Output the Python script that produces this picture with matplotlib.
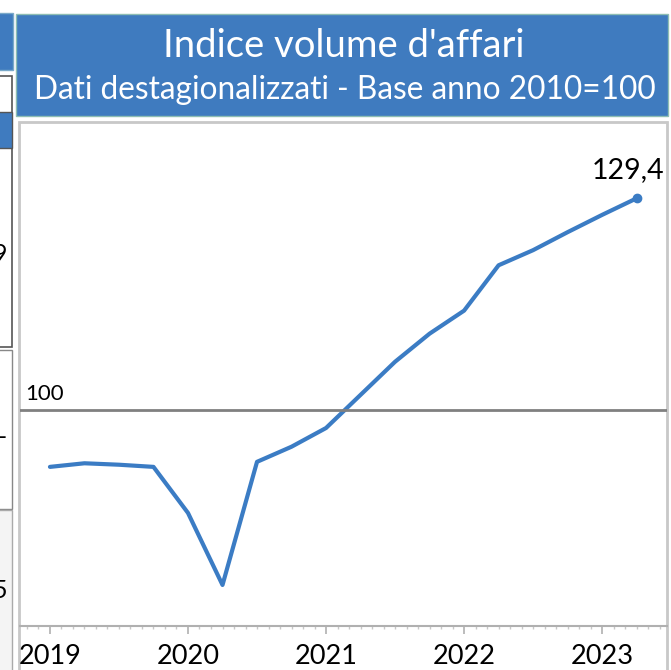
import matplotlib
matplotlib.use("Agg")
import matplotlib.pyplot as plt
from matplotlib.patches import Rectangle
from matplotlib.ticker import MultipleLocator, FixedLocator

plt.rcParams["font.family"] = ["Lato", "DejaVu Sans"]

# quarterly data 2019Q1 .. 2023Q2 (base 2010 = 100)
quarters = [2019 + i * 0.25 for i in range(18)]
index_values = [92.1, 92.6, 92.4, 92.1, 85.7, 75.7, 92.8, 94.9, 97.5,
                102.1, 106.7, 110.6, 113.8, 120.1, 122.2, 124.7, 127.1, 129.4]
year_ticks = [2019, 2020, 2021, 2022, 2023]
last_label = "129,4"
title = "Indice volume d'affari"
subtitle = "Dati destagionalizzati - Base anno 2010=100"

W, H = 671, 670
BLUE = "#3f7bbf"
LINE = "#3b7cc4"

fig = plt.figure(figsize=(W / 100, H / 100), dpi=100)

def box(x0, y0, x1, y1, **kw):
    # pixel coords, y from the top
    fig.patches.append(Rectangle((x0 / W, 1 - y1 / H), (x1 - x0) / W, (y1 - y0) / H,
                                 transform=fig.transFigure, figure=fig, **kw))

# fragments of the neighbouring panels on the left
box(-20, 13, 13, 70, facecolor=BLUE, edgecolor="#7aa9c9", lw=1)
box(-20, 76, 12, 347, facecolor="white", edgecolor="#555555", lw=1.2)
box(-20, 112, 12, 148, facecolor=BLUE, edgecolor="#555555", lw=1)
box(-20, 350, 12, 509, facecolor="white", edgecolor="#888888", lw=1)
box(-20, 510, 12, 690, facecolor="#f4f4f4", edgecolor="#aaaaaa", lw=1)
fig.text(7 / W, 1 - 255 / H, "9", ha="right", va="center", fontsize=18)
fig.text(7 / W, 1 - 438 / H, "-", ha="right", va="center", fontsize=18)
fig.text(7 / W, 1 - 591 / H, "5", ha="right", va="center", fontsize=18)

# header of this panel
box(16, 14, 668, 116, facecolor=BLUE, edgecolor="#8dbdb3", lw=1)
fig.text(344 / W, 1 - 46 / H, title, ha="center", va="center", color="white", fontsize=27.5)
fig.text(345 / W, 1 - 90 / H, subtitle, ha="center", va="center", color="white", fontsize=22.8)

# plot frame
box(19, 122, 667, 690, facecolor="white", edgecolor="#c8c8c8", lw=2)

ax = fig.add_axes([20 / W, (H - 626) / H, 647 / W, 504 / H])
ax.set_zorder(5)
ax.patch.set_alpha(0)
ax.plot(quarters, index_values, color=LINE, lw=3, solid_joinstyle="round",
        solid_capstyle="round")
ax.plot(quarters[-1], index_values[-1], "o", color=LINE, ms=6)
ax.axhline(100, color="#808080", lw=2)
ax.text(2018.82, 100.8, "100", fontsize=16, va="bottom", ha="left")
ax.annotate(last_label, (quarters[-1], index_values[-1]), xytext=(-6, 11),
            textcoords="offset points", ha="center", va="bottom", fontsize=20.5)

ax.set_xlim(2018.783, 2023.47)
ax.set_ylim(70, 140)
ax.set_yticks([])
for s in ("top", "left", "right"):
    ax.spines[s].set_visible(False)
ax.spines["bottom"].set_color("#b0b0b0")
ax.spines["bottom"].set_linewidth(1.5)
ax.xaxis.set_major_locator(FixedLocator(year_ticks))
ax.set_xticklabels([str(y) for y in year_ticks])
ax.xaxis.set_minor_locator(MultipleLocator(1 / 12))
ax.tick_params(axis="x", which="major", length=6, width=1.2, color="#b0b0b0",
               labelsize=19.5, pad=7)
ax.tick_params(axis="x", which="minor", length=2.5, width=1, color="#c8c8c8")

fig.savefig("out.png", dpi=100)
